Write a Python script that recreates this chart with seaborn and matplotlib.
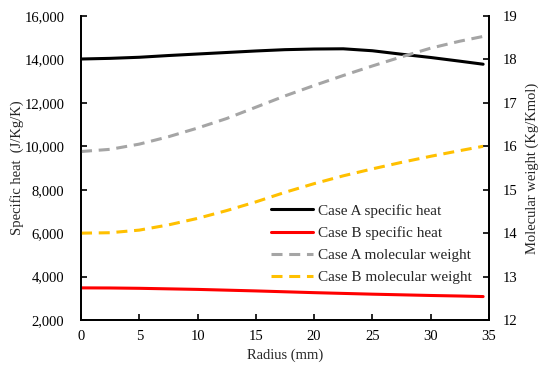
import numpy as np
import pandas as pd
import seaborn as sns
import matplotlib.pyplot as plt

sns.set_theme(style="white")
plt.rcParams['font.family'] = ['Liberation Serif', 'DejaVu Serif']

# data
radius = [0, 2.5, 5, 7.5, 10, 12.5, 15, 17.5, 20, 22.5, 25, 27.5, 30, 32.5, 34.5]
cp_a = [14020, 14050, 14100, 14180, 14250, 14320, 14390, 14450, 14480, 14490,
        14400, 14240, 14090, 13920, 13780]
cp_b = [3480, 3475, 3460, 3435, 3410, 3375, 3340, 3300, 3260, 3225, 3190,
        3160, 3130, 3105, 3080]
mw_a = [15.88, 15.93, 16.05, 16.22, 16.42, 16.64, 16.9, 17.16, 17.4, 17.63,
        17.85, 18.06, 18.26, 18.42, 18.53]
mw_b = [14.0, 14.01, 14.07, 14.19, 14.34, 14.52, 14.72, 14.94, 15.14, 15.32,
        15.48, 15.63, 15.77, 15.9, 16.0]

df = pd.DataFrame({'r': radius, 'cpa': cp_a, 'cpb': cp_b, 'mwa': mw_a, 'mwb': mw_b})

fig, ax = plt.subplots(figsize=(5.5, 3.68), dpi=100)
fig.subplots_adjust(left=0.1473, right=0.889, bottom=0.1304, top=0.9565)
ax2 = ax.twinx()

dash = (0, (3.6, 2.2))
sns.lineplot(data=df, x='r', y='cpa', ax=ax, color='black', lw=2.2, label='Case A specific heat', legend=False)
sns.lineplot(data=df, x='r', y='cpb', ax=ax, color='#FF0000', lw=2.2, label='Case B specific heat', legend=False)
sns.lineplot(data=df, x='r', y='mwa', ax=ax2, color='#A5A5A5', lw=2.2, linestyle=dash, label='Case A molecular weight', legend=False)
sns.lineplot(data=df, x='r', y='mwb', ax=ax2, color='#FFC000', lw=2.2, linestyle=dash, label='Case B molecular weight', legend=False)

ax.set_xlim(0, 35)
ax.set_ylim(2000, 16000)
ax2.set_ylim(12, 19)
ax.set_xticks(range(0, 36, 5))
ax.set_yticks(range(2000, 16001, 2000))
ax.set_yticklabels([f'{v:,}' for v in range(2000, 16001, 2000)])
ax2.set_yticks(range(12, 20))

ax.set_xlabel('Radius (mm)', fontsize=10.5, labelpad=4)
ax.set_ylabel('Specific heat  (J/Kg/K)', fontsize=10.5, labelpad=0)
ax2.set_ylabel('Molecular weight (Kg/Kmol)', fontsize=10.5, labelpad=6)

for a in (ax, ax2):
    a.spines['top'].set_visible(False)
    for s in ('left', 'right', 'bottom'):
        a.spines[s].set_color('black')
        a.spines[s].set_linewidth(1.3)
    a.tick_params(direction='in', length=4, width=1.2, color='black',
                  labelsize=10.5, labelcolor='black')
ax.tick_params(axis='x', pad=7, bottom=True)
ax.tick_params(axis='y', pad=12, left=True)
ax2.tick_params(axis='y', pad=10, right=True)

h1, l1 = ax.get_legend_handles_labels()
h2, l2 = ax2.get_legend_handles_labels()
ax.legend(h1 + h2, l1 + l2, loc='center left', bbox_to_anchor=(0.465, 0.25),
          frameon=False, fontsize=11, handlelength=2.8, handletextpad=0.3,
          labelspacing=0.55, borderpad=0, borderaxespad=0)

plt.savefig('out.png', dpi=100)
